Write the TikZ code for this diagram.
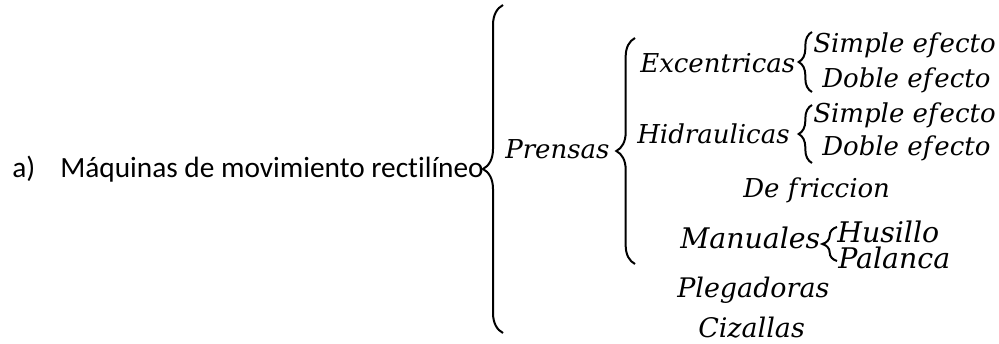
\documentclass[tikz,border=0pt]{standalone}
\usepackage{fontspec}
\setmainfont{Carlito}[Ligatures={NoCommon}]
\newfontfamily\mfont{DejaVu Serif}
\usetikzlibrary{decorations.pathreplacing}
\newcommand{\fk}{f\kern1.5pt}
\begin{document}
\begin{tikzpicture}[x=0.75pt,y=-0.75pt,
  lbl/.style={anchor=base west,inner sep=0pt,font=\fontsize{22pt}{26pt}\selectfont},
  mt/.style={anchor=base west,inner sep=0pt,font=\mfont\itshape\fontsize{19.5pt}{23pt}\selectfont},
  mtb/.style={mt,font=\mfont\itshape\fontsize{21.3pt}{25pt}\selectfont},
  mtc/.style={mt,font=\mfont\itshape\fontsize{20.2pt}{24pt}\selectfont},
  brc/.style={decorate,decoration={brace,amplitude=#1,aspect=0.5},line width=1.5pt},
  brc/.default=8pt]
\useasboundingbox (0,0) rectangle (999,343);
\node[lbl] (a) at (12,177) {a)};
\node[lbl] (maq) at (60,177) {Máquinas de movimiento rectilíneo};
\node[mt] (prensas) at (505,158) {Prensas};
\node[mt] (exc) at (640,72) {Excentricas};
\node[mt] (s1) at (813,52) {Simple e\fk ecto};
\node[mt] (d1) at (822,87) {Doble e\fk ecto};
\node[mt] (hid) at (637,143) {Hidraulicas};
\node[mt] (s2) at (813,122) {Simple e\fk ecto};
\node[mt] (d2) at (822,155) {Doble e\fk ecto};
\node[mt] (fric) at (743,197) {De \fk riccion};
\node[mtb] (man) at (680,248) {Manuales};
\node[mtb] (hus) at (837,242) {Husillo};
\node[mtb] (pal) at (838,268) {Palanca};
\node[mtc] (pleg) at (677,297) {Plegadoras};
\node[mtc] (ciz) at (698,337) {Cizallas};
% brace end points
\coordinate (b0t) at (503,5);   \coordinate (b0b) at (503,333);
\coordinate (b1t) at (635,38);  \coordinate (b1b) at (635,264);
\coordinate (b2t) at (812,32);  \coordinate (b2b) at (812,92);
\coordinate (b3t) at (812,105); \coordinate (b3b) at (812,163);
\coordinate (b4t) at (837,227); \coordinate (b4b) at (837,261);
\draw[brc=15pt] (b0b) -- (b0t);
\draw[brc=14pt] (b1b) -- (b1t);
\draw[brc=10pt] (b2b) -- (b2t);
\draw[brc=10pt] (b3b) -- (b3t);
\draw[brc=11pt] (b4b) -- (b4t);
\end{tikzpicture}
\end{document}
